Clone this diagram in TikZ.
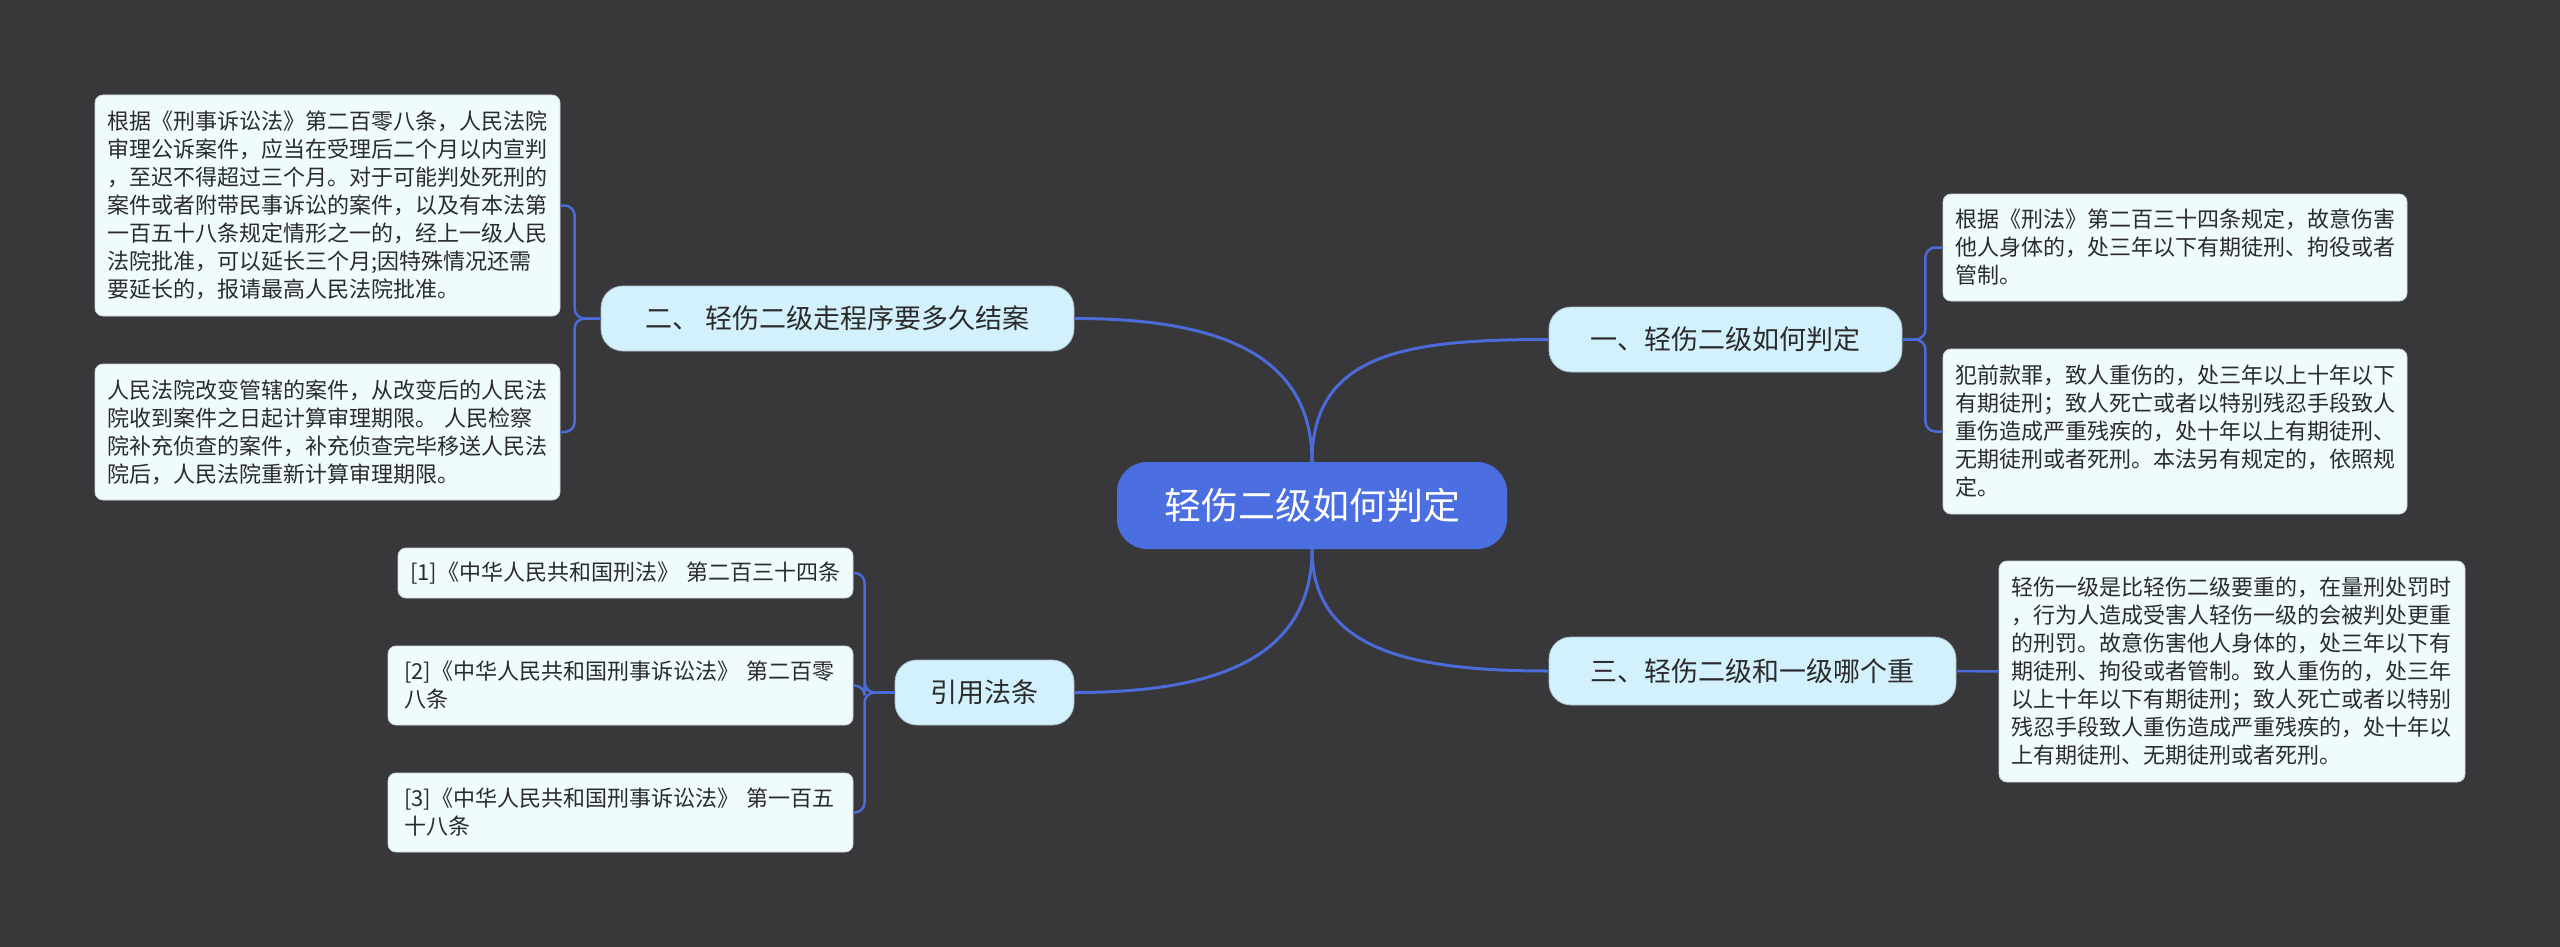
\documentclass[tikz,border=0pt]{standalone}
\usepackage{fontspec}
\setmainfont{Noto Sans CJK SC}
\definecolor{bg}{HTML}{383739}
\definecolor{leaffill}{HTML}{F0FBFD}
\definecolor{leafborder}{HTML}{C8D8DE}
\definecolor{midfill}{HTML}{D3F1FC}
\definecolor{rootfill}{HTML}{4B6EE0}
\definecolor{linec}{HTML}{4A6BD8}
\definecolor{textc}{HTML}{2B2B2B}
\begin{document}
\begin{tikzpicture}[x=1pt,y=-1pt,
  leaf/.style={draw=leafborder, line width=0.8pt, fill=leaffill, rounded corners=8pt,
    inner xsep=12pt, inner ysep=0pt, align=left, text=textc,
    font=\fontsize{22}{28}\selectfont},
  midnode/.style={draw=midfill!80!black, line width=0.8pt, fill=midfill, rounded corners=22pt,
    inner sep=0pt, align=center, text=textc, font=\fontsize{27}{32}\selectfont},
  rootnode/.style={fill=rootfill, rounded corners=30pt, inner sep=0pt, align=center,
    text=white, font=\fontsize{37}{42}\selectfont},
  conn/.style={draw=linec, line width=3pt},
  bconn/.style={draw=linec, line width=2.5pt, rounded corners=10pt}]
\fill[bg] (0,0) rectangle (2560,947);
\useasboundingbox (0,0) rectangle (2560,947);

% root
\node[rootnode, minimum width=390pt, minimum height=87pt] (root) at (1312,505.5) {轻伤二级如何判定};

% level 1
\node[midnode, minimum width=353pt, minimum height=65pt] (n1) at (1725.5,339.5) {一、轻伤二级如何判定};
\node[midnode, minimum width=473pt, minimum height=65pt] (n2) at (837.5,318.5) {二、 轻伤二级走程序要多久结案};
\node[midnode, minimum width=407pt, minimum height=68pt] (n3) at (1752.5,671) {三、轻伤二级和一级哪个重};
\node[midnode, minimum width=179pt, minimum height=65pt] (n4) at (984.5,692.5) {引用法条};

% leaves left
\node[leaf, text width=441pt, minimum height=221pt] (l1) at (327.5,205.5) {根据《刑事诉讼法》第二百零八条，人民法院\\审理公诉案件，应当在受理后二个月以内宣判\\，至迟不得超过三个月。对于可能判处死刑的\\案件或者附带民事诉讼的案件，以及有本法第\\一百五十八条规定情形之一的，经上一级人民\\法院批准，可以延长三个月;因特殊情况还需\\要延长的，报请最高人民法院批准。};
\node[leaf, text width=441pt, minimum height=136pt] (l2) at (327.5,432) {人民法院改变管辖的案件，从改变后的人民法\\院收到案件之日起计算审理期限。 人民检察\\院补充侦查的案件，补充侦查完毕移送人民法\\院后，人民法院重新计算审理期限。};

% leaves right
\node[leaf, text width=440pt, minimum height=107pt] (r1) at (2175,247.5) {根据《刑法》第二百三十四条规定，故意伤害\\他人身体的，处三年以下有期徒刑、拘役或者\\管制。};
\node[leaf, text width=440pt, minimum height=165pt] (r2) at (2175,431.5) {犯前款罪，致人重伤的，处三年以上十年以下\\有期徒刑；致人死亡或者以特别残忍手段致人\\重伤造成严重残疾的，处十年以上有期徒刑、\\无期徒刑或者死刑。本法另有规定的，依照规\\定。};
\node[leaf, text width=442pt, minimum height=221pt] (r3) at (2232,671.5) {轻伤一级是比轻伤二级要重的，在量刑处罚时\\，行为人造成受害人轻伤一级的会被判处更重\\的刑罚。故意伤害他人身体的，处三年以下有\\期徒刑、拘役或者管制。致人重伤的，处三年\\以上十年以下有期徒刑；致人死亡或者以特别\\残忍手段致人重伤造成严重残疾的，处十年以\\上有期徒刑、无期徒刑或者死刑。};

% references
\node[leaf, text width=431pt, align=center, minimum height=50pt] (f1) at (625.5,573) {[1]《中华人民共和国刑法》~第二百三十四条};
\node[leaf, inner xsep=16pt, text width=433pt, minimum height=79pt] (f2) at (620.5,685.5) {[2]《中华人民共和国刑事诉讼法》~第二百零\\八条};
\node[leaf, inner xsep=16pt, text width=433pt, minimum height=79pt] (f3) at (620.5,812.5) {[3]《中华人民共和国刑事诉讼法》~第一百五\\十八条};

% connectors root -> level 1
\draw[conn] (root.north) .. controls +(0,-110) and +(140,0) .. (n2.east);
\draw[conn] (root.north) .. controls +(0,-110) and +(-140,0) .. (n1.west);
\draw[conn] (root.south) .. controls +(0,110) and +(140,0) .. (n4.east);
\draw[conn] (root.south) .. controls +(0,100) and +(-140,0) .. (n3.west);

% level 1 -> leaves
\draw[bconn] (n1.east) -- ++(23,0) |- (r1.west);
\draw[bconn] (n1.east) -- ++(23,0) |- (r2.west);
\draw[bconn] (n2.west) -- ++(-26,0) |- (l1.east);
\draw[bconn] (n2.west) -- ++(-26,0) |- (l2.east);
\draw[bconn] (n3.east) -- (r3.west);
\draw[bconn] (n4.west) -- ++(-30,0) |- (f1.east);
\draw[bconn] (n4.west) -- ++(-30,0) |- (f2.east);
\draw[bconn] (n4.west) -- ++(-30,0) |- (f3.east);
\end{tikzpicture}
\end{document}
